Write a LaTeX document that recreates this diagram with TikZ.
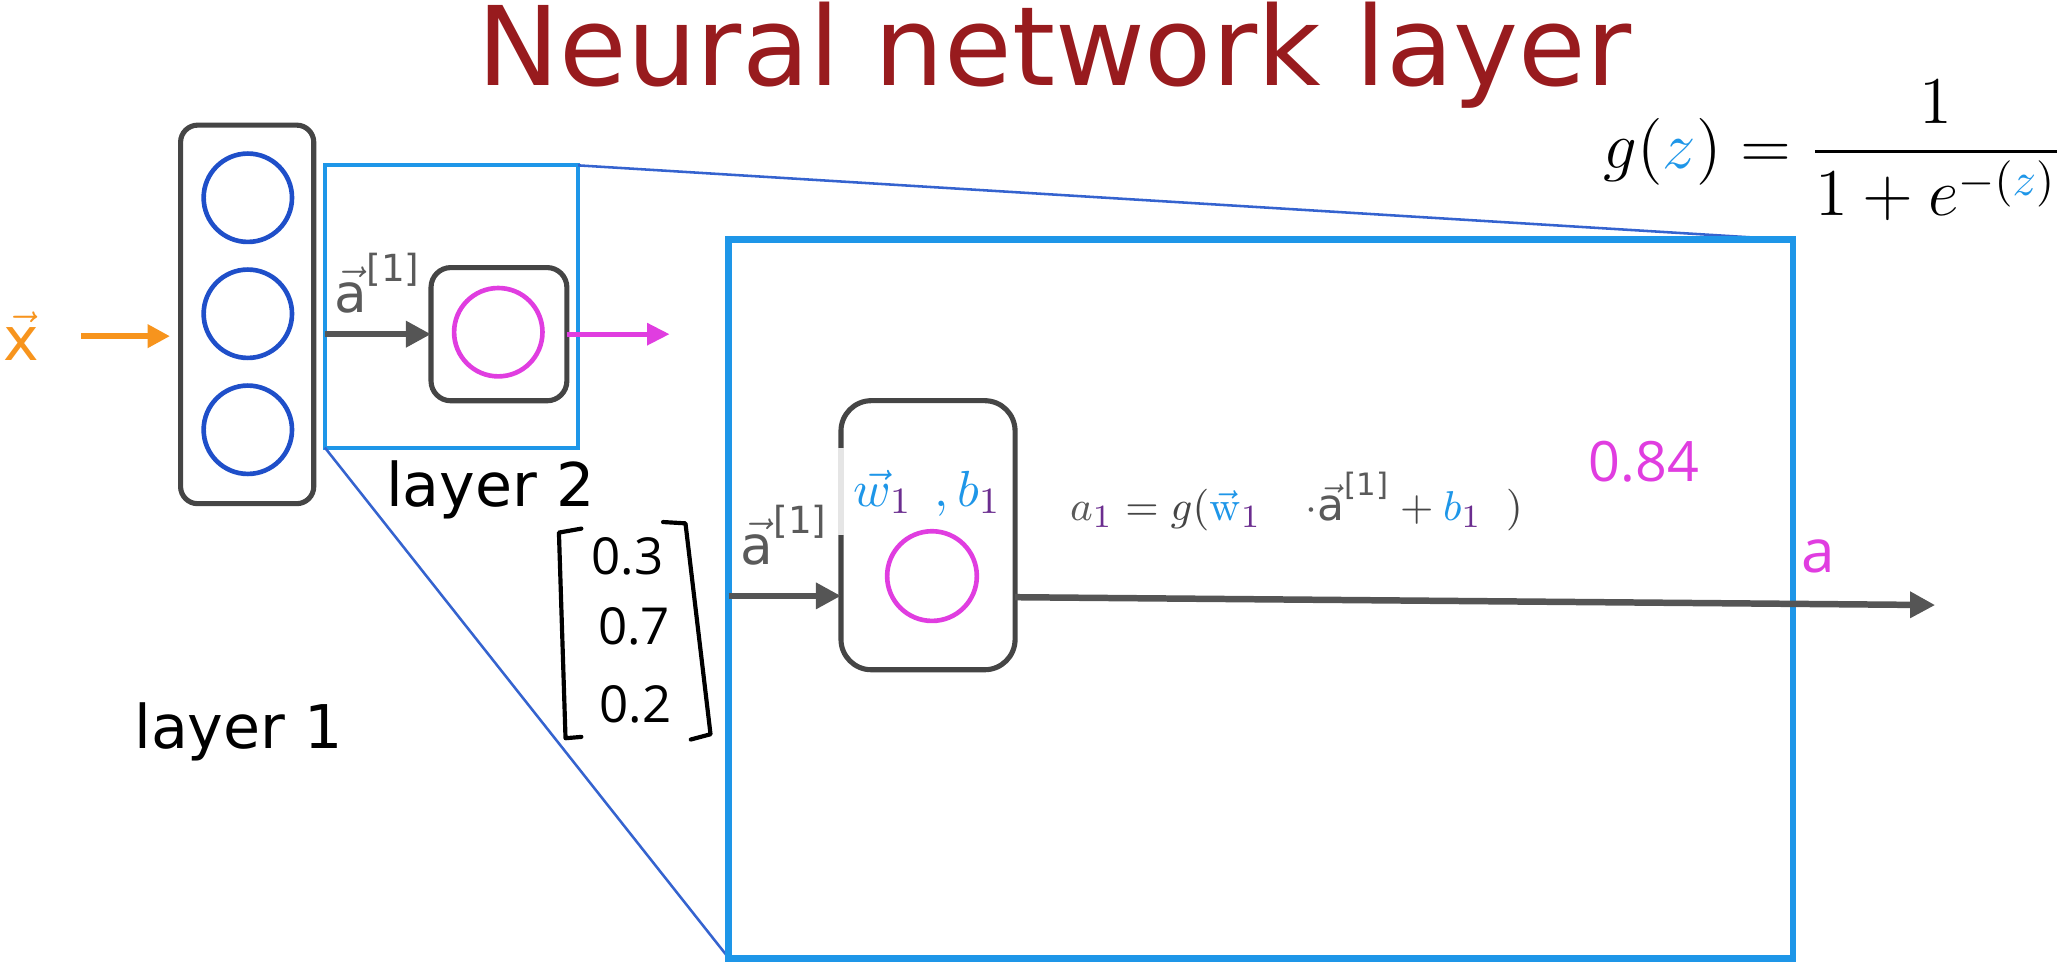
\documentclass[tikz,border=0pt]{standalone}
\usepackage{amsmath}
\usepackage[no-math]{fontspec}
\usepackage{xcolor}
\usepackage{tikz}
\usetikzlibrary{positioning, arrows.meta, calc}
\setsansfont{DejaVu Sans}
\newfontfamily\slidefont{DejaVu Sans}
\newfontfamily\handfont{Open Sans}
\definecolor{titlered}{HTML}{981B1E}
\definecolor{unitblue}{HTML}{1F4FC9}
\definecolor{framesky}{HTML}{1E96E8}
\definecolor{lineblue}{HTML}{3563CF}
\definecolor{boxgray}{HTML}{454545}
\definecolor{flowgray}{HTML}{555555}
\definecolor{actpink}{HTML}{E03DE0}
\definecolor{inorange}{HTML}{F7941D}
\definecolor{subpurple}{HTML}{6B2D8F}
\definecolor{labelgray}{HTML}{5A5A5A}

\tikzset{
  layerbox/.style={draw=boxgray, line width=1.1pt, inner sep=0pt, outer sep=0pt},
  neuron/.style={circle, draw=#1, line width=1pt, minimum size=0.67cm, inner sep=0pt},
  zoomframe/.style={draw=framesky, inner sep=0pt, outer sep=0pt},
  zoomline/.style={draw=lineblue, line width=0.55pt},
  flow/.style={draw=flowgray, line width=1.4pt, -{Triangle[length=0.19cm, width=0.19cm]}},
  xflow/.style={draw=inorange, line width=1.4pt, -{Triangle[length=0.17cm, width=0.17cm]}},
  actflow/.style={draw=actpink, line width=1.1pt, -{Triangle[length=0.17cm, width=0.16cm]}},
  bracketline/.style={draw=black, line width=0.9pt, line cap=round, line join=round},
  slidetext/.style={font=\slidefont\fontsize{13}{15}\selectfont, inner sep=0pt},
  veclabel/.style={text=labelgray, font=\fontsize{11.5}{14}\selectfont, inner sep=1pt},
  handtext/.style={font=\handfont\fontsize{#1}{#1}\selectfont, inner sep=0pt},
}

\begin{document}
\begin{tikzpicture}[x=0.01cm, y=-0.01cm]
  \useasboundingbox (0,0) rectangle (1568,733);

  \node[anchor=base, text=titlered, font=\slidefont\fontsize{23.7}{28}\selectfont] (title) at (800,65) {Neural network layer};
  \node[anchor=east, font=\fontsize{14}{17}\selectfont, inner sep=0pt] (sigmoid) at (1565,114)
    {$\displaystyle g({\color{framesky}z}) = \frac{1}{1+e^{-({\color{framesky}z})}}$};

  % layer 1
  \node[layerbox, rounded corners=0.13cm, minimum width=1.01cm, minimum height=2.87cm] (l1box) at (187.5,238.5) {};
  \foreach \n/\y in {1/150, 2/238, 3/326}
    \node[neuron=unitblue] (u\n) at (188,\y) {};
  \node[veclabel, text=inorange, font=\fontsize{13}{15}\selectfont] (xin) at (16,255) {$\vec{\textsf{x}}$};
  \draw[xflow] ([xshift=0.28cm]xin.east) -- ([xshift=-0.08cm]xin.east -| l1box.west);

  % layer 2 and the frame that is zoomed
  \node[zoomframe, line width=0.85pt, minimum width=1.92cm, minimum height=2.14cm] (l2frame) at (342.5,232.5) {};
  \node[layerbox, rounded corners=0.15cm, minimum width=1.03cm, minimum height=1.01cm] (l2box) at (378.5,253.5) {};
  \node[neuron=actpink] (l2unit) at (378,252) {};
  \draw[flow] (l2box.west -| l2frame.west) -- (l2box.west)
    node[midway, above=0.1cm, veclabel] (a1lbl) {$\vec{\textsf{a}}^{\textsf{[1]}}$};
  \coordinate (l2out) at (508,253.5);
  \draw[actflow] (l2box.east) -- (l2out);

  \node[slidetext, anchor=base] (l2name) at (372,384) {layer 2};
  \node[slidetext, anchor=base] (l1name) at (181,568) {layer 1};

  % zoomed-in view
  \draw[zoomline] (l2frame.north east) -- (1360,182) coordinate (bigne);
  \draw[zoomline] (l2frame.south west) -- (553,727) coordinate (bigsw);
  \node[zoomframe, line width=1.4pt, minimum width=8.07cm, minimum height=5.45cm] (bigframe) at (956.5,454.5) {};

  % activation vector
  \node[handtext=11] (v1) at (476,422) {0.3};
  \node[handtext=11] (v2) at (481,475) {0.7};
  \node[handtext=11] (v3) at (482,534) {0.2};
  \draw[bracketline] (441,401) -- (424,404) -- (429,560) -- (441,559);
  \draw[bracketline] (503,396) -- (520,397) -- (539,557) -- (524,561);

  % the unit
  \node[layerbox, rounded corners=0.23cm, minimum width=1.32cm, minimum height=2.04cm] (nbox) at (704,406) {};
  \node[neuron=actpink, minimum size=0.68cm] (nunit) at (707,437) {};
  \draw[draw=gray!20, line width=1.3pt] ([yshift=-0.36cm]nbox.north west) -- ([yshift=-1.02cm]nbox.north west);
  \node[anchor=west, font=\fontsize{11}{13}\selectfont, inner sep=0pt] (wb) at (647,374)
    {$\color{framesky}\vec{w}_{\color{subpurple}1}\;\,,b_{\color{subpurple}1}$};

  \coordinate (nin) at ([yshift=-0.46cm]nbox.west);
  \draw[flow] (nin -| bigframe.west) -- (nin)
    node[midway, above=0.17cm, veclabel] (a1inner) {$\vec{\textsf{a}}^{\textsf{[1]}}$};
  \coordinate (aout) at (1468,459);
  \draw[flow] ([yshift=-0.47cm]nbox.east) -- (aout);

  \node[anchor=base west, text=boxgray, font=\fontsize{9.5}{12}\selectfont, inner sep=0pt] (zeq) at (811,395)
    {${\color{labelgray}a}_{\color{subpurple}1} = g({\color{framesky}\vec{\mathrm{w}}}_{\color{subpurple}1}\quad
      {\color{labelgray}\cdot\vec{\textsf{a}}^{\textsf{[1]}}} + {\color{framesky}b}_{\color{subpurple}1}\;\;)$};
  \node[handtext=12, text=actpink] (yval) at (1247,350) {0.84};
  \node[handtext=13, text=actpink] (aname) at (1379,422) {a};
\end{tikzpicture}
\end{document}
